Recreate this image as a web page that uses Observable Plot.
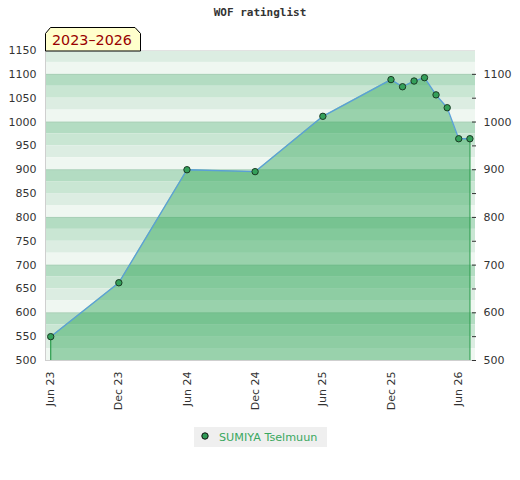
<!DOCTYPE html>
<html>
<head>
<meta charset="utf-8">
<script src="https://cdn.jsdelivr.net/npm/d3@7"></script>
<script src="https://cdn.jsdelivr.net/npm/@observablehq/plot@0.6"></script>
<style>
  body { margin: 0; background: #fff; }
  #wrap { position: relative; width: 520px; height: 480px; font-family: "DejaVu Sans", sans-serif; }
  #title { position: absolute; top: 6px; left: 0; width: 520px; text-align: center;
           font: bold 11px "DejaVu Sans Mono", monospace; color: #333; }
  #chart { position: absolute; top: 0; left: 0; }
  #badge { position: absolute; top: 0; left: 0; }
  #legend { position: absolute; left: 194px; top: 427px; width: 133px; height: 20px; background: #efefef;
            display: flex; align-items: center; font-size: 11.2px; color: #3aa860; }
</style>
</head>
<body>
<div id="wrap">
  <div id="chart"></div>
  <div id="title">WOF ratinglist</div>
  <svg id="badge" width="160" height="60">
    <polygon points="45.5,51 45.5,33.5 50.5,27.5 135,27.5 140.5,33.5 140.5,51" fill="#ffffcc" stroke="#000" stroke-width="1"/>
    <text x="52" y="45" font-family="DejaVu Sans" font-size="14.3" fill="#990000">2023–2026</text>
  </svg>
  <div id="legend">
    <svg width="24" height="20" style="flex:none"><circle cx="11" cy="9" r="3.2" fill="#2f9a55" stroke="#111" stroke-width="1"/></svg>
    <span style="margin-left:1px">SUMIYA Tselmuun</span>
  </div>
</div>
<script>
// ---- data ----
const dates = ["2023-06-01","2023-12-01","2024-06-01","2024-12-01","2025-06-01","2025-12-01",
               "2026-01-01","2026-02-01","2026-03-01","2026-04-01","2026-05-01","2026-06-01","2026-07-01"];
const ratings = [550, 663, 900, 896, 1012, 1089, 1074, 1086, 1093, 1057, 1030, 965, 965];
const xTickDates = ["2023-06-01","2023-12-01","2024-06-01","2024-12-01","2025-06-01","2025-12-01","2026-06-01"];
const leftTicks = [500,550,600,650,700,750,800,850,900,950,1000,1050,1100,1150];
const rightTicks = [500,600,700,800,900,1000,1100];
const rightMinorTicks = [500,550,600,650,700,750,800,850,900,950,1000,1050,1100];
const stripeShades = ["#b3dcc2","#c9e6d3","#dcede2","#eff7f1"]; // from top of each 100 block downward
const yDomain = [500, 1150];
const xDomain = ["2023-05-18","2026-07-16"];

const series = dates.map((d, i) => ({date: new Date(d), rating: ratings[i]}));
const edges = [series[0], series[series.length - 1]];

// background stripe bands of 25 points
const stripes = [];
for (let hi = 1200; hi > yDomain[0]; hi -= 100) {
  stripeShades.forEach((c, k) => {
    const top = hi - 25 * k, bot = hi - 25 * (k + 1);
    const y2 = Math.min(top, yDomain[1]), y1 = Math.max(bot, yDomain[0]);
    if (y2 > y1) stripes.push({y1, y2, c});
  });
}

const plain = d => String(d);

const chart = Plot.plot({
  width: 520,
  height: 410,
  marginTop: 50,
  marginBottom: 50,
  marginLeft: 45,
  marginRight: 45,
  style: {fontFamily: "DejaVu Sans", fontSize: "11px", color: "#333", background: "transparent"},
  x: {type: "utc", domain: xDomain.map(d => new Date(d))},
  y: {domain: yDomain},
  color: {type: "identity"},
  marks: [
    Plot.rect(stripes, {y1: "y1", y2: "y2", fill: "c"}),
    Plot.ruleY(rightTicks, {stroke: "#000", strokeOpacity: 0.06}),
    Plot.areaY(series, {x: "date", y1: yDomain[0], y2: "rating", fill: "#28a252", fillOpacity: 0.43}),
    Plot.ruleX(edges, {x: "date", y1: yDomain[0], y2: "rating", stroke: "#2e9e4f", strokeWidth: 1.2}),
    Plot.line(series, {x: "date", y: "rating", stroke: "#5a9fd8", strokeWidth: 1.3}),
    Plot.dot(series, {x: "date", y: "rating", r: 3.2, fill: "#34a05a", stroke: "#1a3a24", strokeWidth: 1}),
    Plot.ruleX([new Date(xDomain[0])], {stroke: "#cfcfcf"}),
    Plot.ruleY([yDomain[0]], {stroke: "#cfcfcf"}),
    Plot.ruleY([yDomain[1]], {stroke: "#e2e2e2"}),
    Plot.axisY({anchor: "left", ticks: leftTicks, tickFormat: plain, tickSize: 0, tickPadding: 9}),
    Plot.axisY({anchor: "right", ticks: rightTicks, tickFormat: plain, tickSize: 0, tickPadding: 8}),
    Plot.axisY({anchor: "right", ticks: rightMinorTicks, text: null, tickSize: 4, dx: -4, stroke: "#333"}),
    Plot.axisX({ticks: xTickDates.map(d => new Date(d)), tickFormat: d3.utcFormat("%b %y"),
                tickRotate: -90, tickSize: 0, tickPadding: 11})
  ]
});
document.getElementById("chart").appendChild(chart);
</script>
</body>
</html>
